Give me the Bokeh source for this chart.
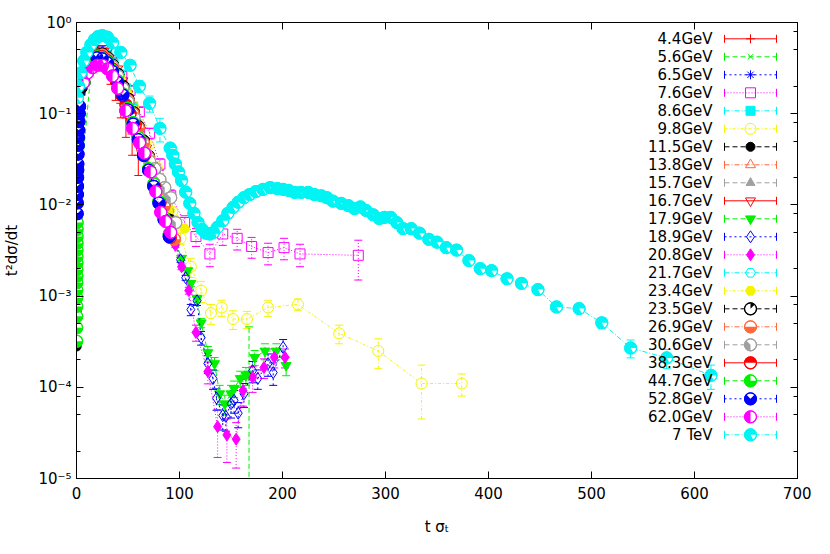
import math
from bokeh.plotting import figure
from bokeh.models import (ColumnDataSource, Range1d, LinearScale, LinearAxis, LogAxis,
                          FixedTicker, CustomJSTickFormatter, Whisker, TeeHead)
from bokeh.core.properties import value
from bokeh.embed import file_html
from bokeh.resources import INLINE

# ---------------- data ----------------
x_ticks = [0, 100, 200, 300, 400, 500, 600, 700]
y_ticks = [1e-5, 1e-4, 1e-3, 1e-2, 1e-1, 1]
y_minor = [2e-5, 5e-5, 8e-5, 2e-4, 5e-4, 8e-4, 2e-3, 5e-3, 8e-3,
           2e-2, 5e-2, 8e-2, 0.2, 0.5, 0.8]

labels = ["4.4GeV", "5.6GeV", "6.5GeV", "7.6GeV", "8.6GeV", "9.8GeV", "11.5GeV",
          "13.8GeV", "15.7GeV", "16.7GeV", "17.9GeV", "18.9GeV", "20.8GeV", "21.7GeV",
          "23.4GeV", "23.5GeV", "26.9GeV", "30.6GeV", "38.3GeV", "44.7GeV", "52.8GeV",
          "62.0GeV", "7 TeV"]

t_44 = [5, 9, 13, 17, 21, 25, 29, 33, 38, 43, 48, 54, 60]
y_44 = [0.18, 0.28, 0.36, 0.42, 0.45, 0.42, 0.36, 0.27, 0.19, 0.13, 0.09, 0.06, 0.035]
e_44 = [0.02, 0.03, 0.04, 0.05, 0.06, 0.06, 0.06, 0.06, 0.05, 0.04, 0.035, 0.025, 0.014]

t_56 = [7, 11, 15, 19, 23, 27, 31, 36, 41, 46, 52, 58, 64, 70]
y_56 = [0.22, 0.32, 0.40, 0.45, 0.47, 0.45, 0.40, 0.31, 0.23, 0.16, 0.10, 0.062, 0.038, 0.023]

t_65 = [8, 12, 16, 20, 24, 28, 33, 38, 43, 48, 54, 60, 66, 72, 78]
y_65 = [0.25, 0.35, 0.43, 0.48, 0.50, 0.47, 0.41, 0.32, 0.24, 0.17, 0.11, 0.068, 0.043, 0.027, 0.017]

t_76 = [18, 23, 35, 44, 52, 61, 71, 81, 91.5, 105, 116, 129.5, 142, 156, 170, 186, 201.5, 217, 273.6]
y_76 = [0.45, 0.48, 0.36, 0.26, 0.18, 0.105, 0.061, 0.028, 0.0126, 0.0064, 0.0045, 0.0029,
        0.0048, 0.0043, 0.0035, 0.0030, 0.0034, 0.0029, 0.0028]
e_76 = [0.04, 0.04, 0.04, 0.03, 0.02, 0.012, 0.008, 0.004, 0.002, 0.0012, 0.001, 0.0008,
        0.0012, 0.0011, 0.0009, 0.0008, 0.0009, 0.0008, 0.0013]

t_86 = [10, 15, 20, 25, 30, 36, 42, 48, 55]
y_86 = [0.32, 0.42, 0.47, 0.48, 0.44, 0.36, 0.27, 0.19, 0.12]

t_98 = [12, 18, 24, 30, 36, 42, 48, 55, 62, 70, 78, 86, 93, 101, 111, 121, 130.5, 141, 152,
        165.5, 186, 215, 255, 293, 335, 374]
y_98 = [0.34, 0.42, 0.44, 0.40, 0.33, 0.25, 0.18, 0.12, 0.075, 0.045, 0.026, 0.015, 0.0085,
        0.0043, 0.0021, 0.00115, 0.00065, 0.00075, 0.00056, 0.00056, 0.00075, 0.00081,
        0.00039, 0.00025, 0.00011, 0.00011]
e_98 = [0.02, 0.02, 0.02, 0.02, 0.02, 0.015, 0.01, 0.008, 0.005, 0.003, 0.002, 0.0012, 0.0008,
        0.0006, 0.0005, 0.0003, 0.00016, 0.00015, 0.00013, 0.00012, 0.00015, 0.00012,
        0.00009, 0.00009, 0.000065, 0.00003]

t_115 = [0.15, 0.2, 0.25, 0.3, 0.4, 0.5, 0.6, 0.7, 0.8, 0.9, 1.0, 4, 6, 9]
y_115 = [2.8e-4, 4.6e-4, 7e-4, 1.0e-3, 1.7e-3, 2.5e-3, 3.4e-3, 4.3e-3, 5.2e-3, 6.2e-3,
         7.2e-3, 0.17, 0.19, 0.22]

t_138 = [10, 15, 20, 25, 30, 35, 40, 46, 52, 58, 64, 70, 76, 82]
y_138 = [0.30, 0.40, 0.45, 0.46, 0.43, 0.36, 0.28, 0.20, 0.135, 0.088, 0.057, 0.037, 0.024, 0.015]

t_157 = [12, 17, 22, 27, 32, 38, 44, 50, 56, 62, 68, 74, 80, 86, 92]
y_157 = [0.33, 0.42, 0.46, 0.46, 0.41, 0.33, 0.24, 0.165, 0.11, 0.072, 0.047, 0.030, 0.019,
         0.012, 0.0075]

t_167 = [14, 18, 22, 26, 30, 35, 40, 45, 50, 56, 62, 68, 74, 80]
y_167 = [0.40, 0.47, 0.52, 0.52, 0.48, 0.40, 0.31, 0.23, 0.165, 0.105, 0.066, 0.042, 0.027, 0.017]

t_179 = [15, 20, 25, 30, 36, 42, 48, 54, 60, 66, 72, 78, 84, 90, 96, 102, 108, 111, 117, 121,
         127.5, 134, 139, 144, 150, 153, 159, 164.5, 167.5, 173, 183, 194, 203.5]
y_179 = [0.42, 0.46, 0.46, 0.42, 0.34, 0.25, 0.17, 0.11, 0.07, 0.044, 0.027, 0.017, 0.0105,
         0.0065, 0.004, 0.0026, 0.0019, 0.00138, 0.00094, 0.00051, 0.00024, 0.000182, 8.5e-5,
         6.6e-5, 8.5e-5, 9.7e-5, 0.000125, 0.000135, 0.00014, 0.000213, 0.00025, 0.00025,
         0.000174]
e_179 = [0.02, 0.02, 0.02, 0.02, 0.015, 0.01, 0.008, 0.005, 0.003, 0.002, 0.0013, 0.0008,
         0.0005, 0.0003, 0.0002, 0.00015, 0.0001, 0.0001, 0.00008, 0.00006, 0.00004, 0.00003,
         0.00002, 0.000016, 0.00002, 0.00002, 0.000025, 0.00003, 0.00032, 0.00004, 0.00005,
         0.00005, 0.00004]

t_189 = [15, 20, 25, 30, 36, 42, 48, 54, 60, 66, 72, 78, 84, 90, 96, 101, 106, 111, 117, 121,
         127.5, 132.5, 136, 142, 145, 150, 153, 157, 162.6, 171, 176, 186, 191, 200.6]
y_189 = [0.42, 0.47, 0.47, 0.43, 0.35, 0.26, 0.18, 0.115, 0.073, 0.045, 0.028, 0.017, 0.0105,
         0.0064, 0.0039, 0.0025, 0.00159, 0.00071, 0.00089, 0.00035, 0.000182, 0.000125,
         7.6e-5, 4.9e-5, 4.8e-5, 6.6e-5, 7.2e-5, 5.2e-5, 8.5e-5, 0.000152, 0.000125, 0.000182,
         0.000145, 0.000274]
e_189 = [0.02, 0.02, 0.02, 0.02, 0.015, 0.01, 0.008, 0.005, 0.003, 0.002, 0.0013, 0.0008,
         0.0005, 0.0003, 0.0002, 0.00015, 0.0001, 0.0001, 0.0001, 0.00006, 0.00004, 0.00003,
         0.00002, 0.000015, 0.000015, 0.00002, 0.00002, 0.000016, 0.000025, 0.00004, 0.00003,
         0.00005, 0.00004, 0.00006]

t_208 = [15, 20, 25, 30, 36, 42, 48, 54, 60, 66, 72, 78, 84, 90, 96, 102, 109, 116, 127.5,
         137, 146, 155, 161.6, 171, 182, 192, 202.5]
y_208 = [0.41, 0.46, 0.46, 0.42, 0.34, 0.25, 0.17, 0.11, 0.07, 0.043, 0.026, 0.016, 0.0098,
         0.006, 0.0036, 0.0021, 0.00115, 0.0004, 0.000149, 3.7e-5, 3.0e-5, 2.7e-5, 9.2e-5,
         0.000128, 0.000165, 0.000213, 0.000213]
e_208 = [0.02, 0.02, 0.02, 0.02, 0.015, 0.01, 0.008, 0.005, 0.003, 0.002, 0.0013, 0.0008,
         0.0005, 0.0003, 0.0002, 0.00015, 0.0001, 0.00008, 0.00004, 0.00002, 0.000015,
         0.000014, 0.00003, 0.00004, 0.00004, 0.00005, 0.00005]

t_217 = [14, 19, 24, 29, 34, 40, 46, 52, 58, 64, 70, 76, 82, 88]
y_217 = [0.39, 0.45, 0.47, 0.44, 0.38, 0.28, 0.20, 0.13, 0.085, 0.054, 0.034, 0.021, 0.013, 0.008]

t_234 = [16, 21, 26, 31, 37, 43, 49, 55, 61, 67, 73, 79, 85, 90.6, 96, 105]
y_234 = [0.42, 0.46, 0.45, 0.41, 0.33, 0.24, 0.17, 0.11, 0.07, 0.045, 0.028, 0.017, 0.011,
         0.0087, 0.0068, 0.0055]

t_235 = [8, 12, 16, 20, 25, 30, 35, 40, 45, 50, 55, 60, 65, 70, 75, 80, 85, 90]
y_235 = [0.28, 0.36, 0.42, 0.45, 0.45, 0.41, 0.34, 0.27, 0.20, 0.145, 0.103, 0.072, 0.050,
         0.034, 0.023, 0.0155, 0.0102, 0.0068]

t_269 = [10, 15, 20, 25, 30, 35, 40, 45, 50, 55, 60, 65, 70, 75, 80, 85, 90, 95]
y_269 = [0.32, 0.40, 0.44, 0.44, 0.40, 0.33, 0.26, 0.19, 0.14, 0.10, 0.07, 0.048, 0.033,
         0.022, 0.0148, 0.0097, 0.0064, 0.0042]

t_306 = [10, 15, 20, 25, 30, 35, 40, 45, 50, 56, 62.3, 67, 71, 76, 81, 85.7, 91.5, 96.4]
y_306 = [0.31, 0.39, 0.43, 0.43, 0.39, 0.33, 0.26, 0.19, 0.135, 0.09, 0.051, 0.037, 0.030,
         0.025, 0.019, 0.0155, 0.012, 0.0064]

t_383 = [10, 15, 20, 25, 30, 35, 40, 44, 48, 52, 57, 61, 66, 71, 76, 81, 86, 91]
y_383 = [0.31, 0.39, 0.43, 0.42, 0.38, 0.31, 0.22, 0.16, 0.125, 0.10, 0.075, 0.052, 0.035,
         0.024, 0.016, 0.0105, 0.0068, 0.0044]

t_447 = [0.1, 0.13, 0.16, 0.19, 0.22, 0.25, 0.28, 0.31, 0.34, 0.37, 0.4, 0.44, 0.48, 0.52, 0.56,
         0.6, 15, 20, 25, 30, 35, 40, 45, 50, 55, 60, 65, 70, 75, 80, 85, 90]
y_447 = [3.2e-4, 4.5e-4, 6e-4, 7.7e-4, 9.6e-4, 1.17e-3, 1.4e-3, 1.65e-3, 1.95e-3, 2.3e-3,
         2.7e-3, 3.2e-3, 3.8e-3, 4.5e-3, 5.4e-3, 6.4e-3, 0.38, 0.42, 0.41, 0.37,
         0.30, 0.23, 0.165, 0.115, 0.08, 0.055, 0.037, 0.025, 0.017, 0.011, 0.0073, 0.0048]

t_528 = [0.7, 0.8, 0.9, 1.0, 1.1, 1.2, 1.3, 1.5, 1.7, 1.9, 2.1, 2.4, 2.7, 3.0, 20,
         25, 30, 35, 40, 45, 50, 55, 60, 65, 70, 75, 80, 85, 90]
y_528 = [8e-3, 0.0105, 0.013, 0.016, 0.020, 0.024, 0.028, 0.036, 0.045, 0.055, 0.066, 0.082,
         0.10, 0.12, 0.41, 0.40, 0.36, 0.29, 0.22, 0.16, 0.11, 0.077, 0.052,
         0.035, 0.024, 0.016, 0.0105, 0.0069, 0.0045]

t_620 = [6.8, 10.7, 15.6, 20.4, 25.3, 30.2, 35, 40, 47.7, 54.5, 61.3, 66, 72, 77, 81.8, 86.5, 91.5]
y_620 = [0.22, 0.28, 0.32, 0.34, 0.34, 0.31, 0.26, 0.19, 0.108, 0.069, 0.048, 0.037, 0.023,
         0.014, 0.0083, 0.0066, 0.005]

t_7tev = [1, 2, 4, 7, 10, 14, 17.5, 21, 25, 30, 35, 43, 52, 61, 71, 81, 91, 93.5, 96, 99, 102,
          106, 110, 114, 118, 122, 125.6, 129.5, 133, 137, 142, 147, 152, 157, 162.6, 168, 174,
          181, 188, 195, 200.6, 206, 212, 218, 225, 231, 237.6, 243, 249, 257, 264, 270, 275.6,
          281, 288, 294, 299, 305, 311, 317, 325, 333, 342, 350, 359, 369, 381, 392, 403, 418,
          432, 448, 466, 488, 510, 538, 573, 616]
y_7tev = [0.15, 0.20, 0.28, 0.38, 0.47, 0.57, 0.65, 0.70, 0.72, 0.69, 0.60, 0.47, 0.34, 0.20,
          0.13, 0.069, 0.042, 0.035, 0.028, 0.023, 0.0185, 0.0138, 0.0104, 0.0081, 0.0064,
          0.0054, 0.0049, 0.0048, 0.0050, 0.0057, 0.0067, 0.0081, 0.0094, 0.0107, 0.012, 0.013,
          0.014, 0.0148, 0.0155, 0.0151, 0.0148, 0.0144, 0.0137, 0.0137, 0.0137, 0.013, 0.0126,
          0.012, 0.011, 0.0104, 0.0098, 0.0091, 0.0095, 0.0087, 0.0078, 0.0071, 0.0073, 0.0073,
          0.0064, 0.0055, 0.0055, 0.0049, 0.0042, 0.0039, 0.0034, 0.0032, 0.00245, 0.0020,
          0.0019, 0.00155, 0.00138, 0.00118, 0.00076, 0.00073, 0.00051, 0.00027, 0.00021,
          0.000135]
e_7tev = [0.005, 0.006, 0.008, 0.01, 0.012, 0.015, 0.015, 0.02, 0.02, 0.02, 0.03, 0.04, 0.035,
          0.03, 0.026, 0.02, 0.002, 0.0015, 0.0012, 0.001, 0.0008, 0.0006, 0.0005, 0.0004,
          0.0003, 0.0003, 0.0002, 0.0002, 0.0002, 0.0002, 0.0003, 0.0003, 0.0004, 0.0004,
          0.0004, 0.0005, 0.0005, 0.0005, 0.0005, 0.0005, 0.0005, 0.0005, 0.0005, 0.0005,
          0.0005, 0.0005, 0.0005, 0.0005, 0.0004, 0.0004, 0.0004, 0.0004, 0.0004, 0.0004,
          0.0003, 0.0003, 0.0003, 0.0003, 0.0003, 0.0003, 0.0003, 0.0002, 0.0002, 0.0002,
          0.0002, 0.0002, 0.00015, 0.00013, 0.00012, 0.0001, 0.0001, 0.0001, 0.00008, 0.00008,
          0.00007, 0.00006, 0.00005, 0.00004]

# ---------------- styling ----------------
RED, GREEN, BLUE, MAG, CYAN = "#ff0000", "#00f000", "#0000ff", "#ff00ff", "#00f4f4"
YEL, BLK, ORG, GRY = "#f4f400", "#000000", "#ff6a3d", "#a0a0a0"
SOLID, DASH, SDASH, DOT, DDOT, DOTDASH = "solid", "5 3", "2 3", "1 2", "5 2 1 2", "3 2 1 2"

# (t, y, err, color, dash, marker, size, filled, half) -- half: wedge angles (deg) for half-filled circles
series = [
    (t_44, y_44, e_44, RED, SOLID, "cross", 9, False, None),
    (t_56, y_56, None, GREEN, DASH, "x", 8, False, None),
    (t_65, y_65, None, BLUE, SDASH, "asterisk", 9, False, None),
    (t_76, y_76, e_76, MAG, DOT, "square", 10, False, None),
    (t_86, y_86, None, CYAN, DDOT, "square", 9, True, None),
    (t_98, y_98, e_98, YEL, DOTDASH, "circle", 11, False, None),
    (t_115, y_115, None, BLK, DASH, "circle", 9, True, None),
    (t_138, y_138, None, ORG, DDOT, "triangle", 10, False, None),
    (t_157, y_157, None, GRY, DASH, "triangle", 9, True, None),
    (t_167, y_167, None, RED, SOLID, "inverted_triangle", 10, False, None),
    (t_179, y_179, e_179, GREEN, DASH, "inverted_triangle", 10, True, None),
    (t_189, y_189, e_189, BLUE, SDASH, "diamond", 12, False, None),
    (t_208, y_208, e_208, MAG, DOT, "diamond", 12, True, None),
    (t_217, y_217, None, CYAN, DDOT, "hex", 10, False, None),
    (t_234, y_234, None, YEL, DOTDASH, "hex", 10, True, None),
    (t_235, y_235, None, BLK, DASH, "circle", 12, False, (45, 90)),
    (t_269, y_269, None, ORG, DDOT, "circle", 12, False, (180, 360)),
    (t_306, y_306, None, GRY, DASH, "circle", 12, False, (135, 270)),
    (t_383, y_383, None, RED, SOLID, "circle", 12, False, (0, 180)),
    (t_447, y_447, None, GREEN, DASH, "circle", 12, False, (90, 360)),
    (t_528, y_528, None, BLUE, SDASH, "circle", 12, False, (135, 405)),
    (t_620, y_620, None, MAG, DOT, "circle", 12, False, (90, 270)),
    (t_7tev, y_7tev, e_7tev, CYAN, DDOT, "circle", 12, False, (0, 300)),
]

FONT = "DejaVu Sans"
p = figure(x_range=Range1d(0, 700), y_range=Range1d(1e-5, 1),
           y_axis_type="log", output_backend="svg", toolbar_location=None,
           frame_width=721, frame_height=456,
           min_border_left=68, min_border_right=14, min_border_top=22, min_border_bottom=60)
p.extra_x_ranges = {"px": Range1d(0, 721)}
p.extra_y_ranges = {"px": Range1d(0, 456)}
p.extra_x_scales = {"px": LinearScale()}
p.extra_y_scales = {"px": LinearScale()}
p.xgrid.visible = False
p.ygrid.visible = False
p.outline_line_color = "black"
p.outline_line_alpha = 1
p.background_fill_color = "white"
p.border_fill_color = "white"


def style_axis(ax, minor):
    ax.major_tick_in = 7
    ax.major_tick_out = 0
    ax.minor_tick_in = 4 if minor else 0
    ax.minor_tick_out = 0
    if not minor:
        ax.minor_tick_line_color = None
    ax.axis_line_color = "black"
    ax.major_tick_line_color = "black"
    ax.major_label_text_font = FONT
    ax.major_label_text_font_size = "15px"
    ax.major_label_text_color = "black"
    ax.axis_label_text_font = FONT
    ax.axis_label_text_font_size = "15px"
    ax.axis_label_text_font_style = "normal"
    ax.axis_label_text_color = "black"


yfmt = CustomJSTickFormatter(code="""
const e = Math.round(Math.log10(tick));
const sup = {'-':'\u207b','0':'\u2070','1':'\u00b9','2':'\u00b2','3':'\u00b3','4':'\u2074',
             '5':'\u2075','6':'\u2076','7':'\u2077','8':'\u2078','9':'\u2079'};
return '10' + String(e).split('').map(c => sup[c]).join('');
""")
blank = CustomJSTickFormatter(code="return '';")

xa = p.xaxis[0]
xa.ticker = FixedTicker(ticks=x_ticks)
xa.axis_label = "t \u03c3\u209c"
xa.major_label_standoff = 8
xa.axis_label_standoff = 16
style_axis(xa, False)

ya = p.yaxis[0]
ya.ticker = FixedTicker(ticks=y_ticks, minor_ticks=y_minor)
ya.formatter = yfmt
ya.axis_label = "t\u00b2d\u03c3/dt"
ya.major_label_standoff = 5
ya.axis_label_standoff = 14
style_axis(ya, True)

top = LinearAxis(ticker=FixedTicker(ticks=x_ticks), formatter=blank, major_label_standoff=0)
style_axis(top, False)
p.add_layout(top, "above")
right = LogAxis(ticker=FixedTicker(ticks=y_ticks, minor_ticks=y_minor), formatter=blank,
                major_label_standoff=0)
style_axis(right, True)
p.add_layout(right, "right")

# ---------------- data series ----------------
for (t, y, e, col, dash, mk, sz, filled, half) in series:
    p.line(t, y, line_color=col, line_dash=dash, line_width=1)
    if e is not None:
        up = [yy + ee for yy, ee in zip(y, e)]
        lo = [yy - ee if yy - ee > 0 else 1e-7 for yy, ee in zip(y, e)]
        src = ColumnDataSource(dict(base=t, upper=up, lower=lo))
        p.add_layout(Whisker(source=src, base="base", upper="upper", lower="lower",
                             dimension="height", line_color=col, line_dash=dash, line_width=1,
                             upper_head=TeeHead(size=8, line_color=col, line_width=1),
                             lower_head=TeeHead(size=8, line_color=col, line_width=1)))
    if half is not None:
        p.scatter(t, y, marker="circle", size=sz, fill_color="white", line_color=col, line_width=1)
        p.wedge(x=t, y=y, radius=sz / 2, radius_units="screen",
                start_angle=math.radians(half[0]), end_angle=math.radians(half[1]),
                fill_color=col, line_color=None)
        p.scatter(t, y, marker="circle", size=sz, fill_color=None, line_color=col, line_width=1.2)
    else:
        p.scatter(t, y, marker=mk, size=sz, line_color=col, line_width=1,
                  fill_color=col if filled else None)

# ---------------- legend (gnuplot style, frame pixel coordinates) ----------------
row_y = [456 - (16.3 + 18 * i) for i in range(len(labels))]
p.text(x=[636] * len(labels), y=row_y, text=labels, x_range_name="px", y_range_name="px",
       text_align="right", text_baseline="middle", text_font=value(FONT),
       text_font_size="15px", text_color="black")
for i, (t, y, e, col, dash, mk, sz, filled, half) in enumerate(series):
    yy = row_y[i]
    p.segment(x0=[648], y0=[yy], x1=[700], y1=[yy], x_range_name="px", y_range_name="px",
              line_color=col, line_dash=dash, line_width=1)
    p.segment(x0=[648, 700], y0=[yy - 4, yy - 4], x1=[648, 700], y1=[yy + 4, yy + 4],
              x_range_name="px", y_range_name="px", line_color=col, line_width=1)
    if half is not None:
        p.scatter([674], [yy], marker="circle", size=sz, fill_color="white", line_color=col,
                  x_range_name="px", y_range_name="px")
        p.wedge(x=[674], y=[yy], radius=sz / 2, radius_units="screen",
                start_angle=math.radians(half[0]), end_angle=math.radians(half[1]),
                fill_color=col, line_color=None, x_range_name="px", y_range_name="px")
        p.scatter([674], [yy], marker="circle", size=sz, fill_color=None, line_color=col,
                  line_width=1.2, x_range_name="px", y_range_name="px")
    else:
        p.scatter([674], [yy], marker=mk, size=sz, line_color=col,
                  fill_color=col if filled else None, x_range_name="px", y_range_name="px")

open("out.html", "w", encoding="utf-8").write(file_html(p, INLINE))
